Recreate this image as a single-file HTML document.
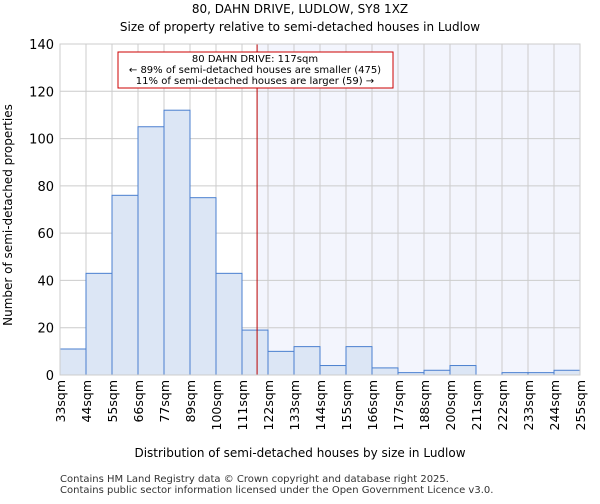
<!DOCTYPE html>
<html><head><meta charset="utf-8"><style>
body{margin:0;background:#fff;font-family:"DejaVu Sans","Liberation Sans",sans-serif}
</style></head><body>
<svg id="c" width="600" height="500" xmlns="http://www.w3.org/2000/svg" font-family="DejaVu Sans, Liberation Sans, sans-serif">
<text x="300" y="13" font-size="12" text-anchor="middle">80, DAHN DRIVE, LUDLOW, SY8 1XZ</text>
<text x="300" y="31" font-size="12" text-anchor="middle">Size of property relative to semi-detached houses in Ludlow</text>
<g id="plot"></g>
<text x="300" y="457" font-size="12" text-anchor="middle">Distribution of semi-detached houses by size in Ludlow</text>
<text transform="translate(12,215) rotate(-90)" font-size="12" text-anchor="middle">Number of semi-detached properties</text>
<text x="60" y="482" font-size="10" fill="#333">Contains HM Land Registry data © Crown copyright and database right 2025.</text>
<text x="60" y="493" font-size="10" fill="#333">Contains public sector information licensed under the Open Government Licence v3.0.</text>
</svg>
<script>
const edgeLabels=["33sqm","44sqm","55sqm","66sqm","77sqm","89sqm","100sqm","111sqm","122sqm","133sqm","144sqm","155sqm","166sqm","177sqm","188sqm","200sqm","211sqm","222sqm","233sqm","244sqm","255sqm"];
const counts=[11,43,76,105,112,75,43,19,10,12,4,12,3,1,2,4,0,1,1,2];
const yTicks=[0,20,40,60,80,100,120,140];
const markerBin=7.58;
const NS="http://www.w3.org/2000/svg";
const L=60,R=580,T=44,B=375,yMax=140;
const bw=(R-L)/counts.length;
const xs=i=>L+i*bw;
const ys=v=>B-(v/yMax)*(B-T);
const g=document.getElementById('plot');
function mk(t,a){const e=document.createElementNS(NS,t);for(const k in a)e.setAttribute(k,a[k]);g.appendChild(e);return e;}
const mx=xs(markerBin);
let e=mk('rect',{x:mx,y:T,width:R-mx,height:B-T,fill:'#f3f5fd'});


yTicks.forEach(v=>{
 let l=mk('line',{x1:L,x2:R,y1:ys(v),y2:ys(v),stroke:'#ccc'});
 
 
 let t=mk('text',{x:L-6,y:ys(v)+5,'font-size':13,'text-anchor':'end'});t.textContent=v;
 
 
});
edgeLabels.forEach((s,i)=>{
 let l=mk('line',{x1:xs(i),x2:xs(i),y1:T,y2:B,stroke:'#ccc'});
 
 
 let t=mk('text',{'font-size':12.5,'text-anchor':'end',transform:`translate(${xs(i)+5},${B+5}) rotate(-90)`});t.textContent=s;
 
 
});
counts.forEach((v,i)=>{
 let r=mk('rect',{x:xs(i),y:ys(v),width:bw,height:B-ys(v),fill:'#dce6f5',stroke:'#4a7fcf','stroke-width':1});
 
 
});
e=mk('line',{x1:mx,x2:mx,y1:T,y2:B,stroke:'#b00','stroke-width':1});


e=mk('rect',{x:118,y:52,width:275,height:36,fill:'#fff',stroke:'#c00'});


["80 DAHN DRIVE: 117sqm","← 89% of semi-detached houses are smaller (475)","11% of semi-detached houses are larger (59) →"].forEach((s,i)=>{
 let t=mk('text',{x:255,y:62+i*11,'font-size':10,'text-anchor':'middle'});t.textContent=s;
 
 
});
e=mk('rect',{x:L,y:T,width:R-L,height:B-T,fill:'none',stroke:'#ccc'});


</script>
</body></html>
